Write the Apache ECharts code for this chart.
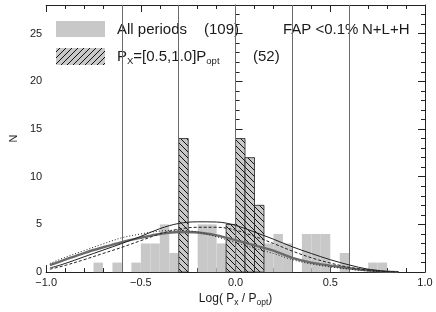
<!DOCTYPE html>
<html><head><meta charset="utf-8">
<script src="https://cdn.jsdelivr.net/npm/echarts@6/dist/echarts.min.js"></script>
<style>html,body{margin:0;padding:0;background:#fff}#c{width:436px;height:312px}</style>
</head><body><div id="c"></div>
<script>
// ---- data ----
const binWidth = 0.05;
const allBinLeft = [-0.75,-0.65,-0.55,-0.5,-0.45,-0.4,-0.35,-0.3,-0.2,-0.15,-0.1,-0.05,0,0.05,0.1,0.15,0.2,0.25,0.35,0.4,0.45,0.55,0.7,0.75];
const allCounts  = [1,1,1,3,3,5,2,14,5,5,3,5,14,12,7,3,4,3,4,4,4,2,1,1];
const halfBinLeft = [-0.3,-0.05,0,0.05,0.1];
const halfCounts  = [14,5,14,12,7];
const vLines = [-0.6,-0.3,0,0.3,0.6];
const curveX   = [-0.98,-0.9,-0.8,-0.7,-0.6,-0.5,-0.4,-0.3,-0.2,-0.1,0,0.1,0.2,0.3,0.4,0.5,0.6,0.7,0.8,0.86];
const thickCurve  = [0.72,1.3,2.0,2.6,3.15,3.6,4.0,4.2,4.15,3.85,3.35,2.8,2.25,1.5,1.0,0.68,0.4,0.2,0.05,0.0];
const thinCurve   = [0.42,0.9,1.6,2.3,3.0,3.75,4.55,5.1,5.27,5.25,4.9,4.2,3.45,2.65,1.95,1.3,0.75,0.3,0.06,0.0];
const dashedCurve = [0.3,0.7,1.3,1.95,2.6,3.3,4.0,4.5,4.7,4.7,4.4,3.75,3.0,2.2,1.5,0.95,0.5,0.2,0.04,0.0];
const dottedCurve = [0.9,1.55,2.25,2.95,3.6,4.0,4.3,4.4,4.2,3.7,3.1,2.5,1.95,1.3,0.85,0.55,0.3,0.12,0.02,0.0];
const xTickValues = [-1,-0.5,0,0.5,1];
const xTickLabels = ['\u22121.0','\u22120.5','0.0','0.5','1.0'];
const yTickValues = [0,5,10,15,20,25];
const yTickLabels = ['0','5','10','15','20','25'];

// ---- patterns ----
function hatch(dir){
  const s=6, c=document.createElement('canvas'); c.width=s; c.height=s;
  const g=c.getContext('2d'); g.fillStyle='#c8c8c8'; g.fillRect(0,0,s,s);
  g.strokeStyle='#111'; g.lineWidth=1;
  g.beginPath();
  if(dir>0){ g.moveTo(-1,-1);g.lineTo(s+1,s+1); g.moveTo(-1,s-1);g.lineTo(1,s+1); g.moveTo(s-1,-1);g.lineTo(s+1,1);}
  else { g.moveTo(-1,s+1);g.lineTo(s+1,-1); g.moveTo(-1,1);g.lineTo(1,-1); g.moveTo(s-1,s+1);g.lineTo(s+1,s-1);}
  g.stroke();
  return {image:c, repeat:'repeat'};
}
const hatchBack = hatch(1);   // "\" direction
const hatchFwd = hatch(-1);   // "/" direction

const FONT='Liberation Sans';
const TXT='#1a1a1a';
const chart = echarts.init(document.getElementById('c'), null, {renderer:'canvas'});

function barRender(fill, stroke){
  return function(params, api){
    const x0=api.value(0), h=api.value(1);
    const p0=api.coord([x0,h]), p1=api.coord([x0+binWidth,0]);
    return {type:'rect', shape:{x:p0[0],y:p0[1],width:p1[0]-p0[0],height:p1[1]-p0[1]},
      style:{fill:fill, stroke:stroke||null, lineWidth:stroke?0.8:0}};
  };
}
const axisCol='#222';
function xAx(pos, labels){
  return {type:'value', min:-1, max:1, interval:0.5, position:pos, gridIndex:0,
    axisLine:{show:true, onZero:false, lineStyle:{color:axisCol,width:1}},
    axisTick:{show:true, inside:true, length:7, lineStyle:{color:axisCol}},
    minorTick:{show:true, splitNumber:5, length:4, lineStyle:{color:axisCol}},
    splitLine:{show:false}, minorSplitLine:{show:false},
    axisLabel:{show:labels, margin:5, fontFamily:FONT, fontSize:11, color:TXT,
      formatter:v=>{const i=xTickValues.findIndex(t=>Math.abs(t-v)<1e-9); return i>=0?xTickLabels[i]:'';}},
    name: labels ? '{a|Log( P}{s|x}{a| / P}{s|opt}{a|)}' : '',
    nameLocation:'middle', nameGap:10,
    nameTextStyle:{rich:{a:{fontFamily:FONT,fontSize:12,lineHeight:16,color:TXT,verticalAlign:'middle'},
                         s:{fontFamily:FONT,fontSize:8.5,lineHeight:9,color:TXT,verticalAlign:'bottom'}}}
  };
}
function yAx(pos, interval, tickLen, labels, line){
  return {type:'value', min:0, max:28, interval:interval, position:pos, gridIndex:0,
    axisLine:{show:line, lineStyle:{color:axisCol,width:1}},
    axisTick:{show:true, inside:true, length:tickLen, lineStyle:{color:axisCol}},
    splitLine:{show:false},
    axisLabel:{show:labels, margin:4, fontFamily:FONT, fontSize:11, color:TXT,
      formatter:v=>{const i=yTickValues.indexOf(v); return i>=0?yTickLabels[i]:'';}},
    name: labels?'N':'', nameLocation:'middle', nameGap:27, nameRotate:90,
    nameTextStyle:{fontFamily:FONT,fontSize:11,color:TXT}
  };
}
const lineBase = {type:'line', xAxisIndex:0, yAxisIndex:0, showSymbol:false, symbol:'none', smooth:0.35, z:5, silent:true};
chart.setOption({
  animation:false,
  grid:{left:36, right:11, top:5, bottom:37},
  xAxis:[xAx('bottom',true), xAx('top',false)],
  yAxis:[yAx('left',5,7,true,true), yAx('left',1,4,false,false), yAx('right',5,7,false,true), yAx('right',1,4,false,false)],
  series:[
    {type:'custom', name:'All periods', xAxisIndex:0, yAxisIndex:0, z:1, silent:true,
      renderItem:barRender('#c8c8c8',null), data:allBinLeft.map((x,i)=>[x,allCounts[i]])},
    {type:'custom', name:'half', xAxisIndex:0, yAxisIndex:0, z:2, silent:true,
      renderItem:barRender(hatchBack,'#222'), data:halfBinLeft.map((x,i)=>[x,halfCounts[i]])},
    Object.assign({}, lineBase, {name:'thick', data:curveX.map((x,i)=>[x,thickCurve[i]]), lineStyle:{color:'#6a6a6a',width:2.4}}),
    Object.assign({}, lineBase, {name:'dotted', data:curveX.map((x,i)=>[x,dottedCurve[i]]), lineStyle:{color:'#222',width:1,type:[1,2]}}),
    Object.assign({}, lineBase, {name:'dashed', data:curveX.map((x,i)=>[x,dashedCurve[i]]), lineStyle:{color:'#222',width:1,type:[3,2]}}),
    Object.assign({}, lineBase, {name:'thin', data:curveX.map((x,i)=>[x,thinCurve[i]]), lineStyle:{color:'#222',width:1}}),
    {type:'line', name:'vlines', xAxisIndex:0, yAxisIndex:0, data:[], z:6, silent:true,
      markLine:{silent:true, symbol:['none','none'], label:{show:false}, animation:false,
        lineStyle:{color:'#6a6a6a', width:1, type:'solid'}, data:vLines.map(v=>({xAxis:v}))}}
  ],
  graphic:[
    {type:'rect', shape:{x:56,y:21,width:49,height:16}, style:{fill:'#c8c8c8'}},
    {type:'rect', shape:{x:56,y:48,width:49,height:17}, style:{fill:hatchFwd}},
    {type:'text', x:117, y:30, style:{text:'All periods', font:'15px "Liberation Sans"', fill:TXT, verticalAlign:'middle'}},
    {type:'text', x:204, y:30, style:{text:'(109)', font:'15px "Liberation Sans"', fill:TXT, verticalAlign:'middle'}},
    {type:'text', x:283, y:30, style:{text:'FAP <0.1%', font:'15px "Liberation Sans"', fill:TXT, verticalAlign:'middle'}},
    {type:'text', x:362, y:30, style:{text:'N+L+H', font:'15px "Liberation Sans"', fill:TXT, verticalAlign:'middle'}},
    {type:'text', x:117, y:57, style:{text:'{a|P}{s|X}{a|=[0.5,1.0]P}{s|opt}', verticalAlign:'middle',
      rich:{a:{fontFamily:FONT,fontSize:15,lineHeight:18,fill:TXT,color:TXT,verticalAlign:'middle'},
            s:{fontFamily:FONT,fontSize:9.5,lineHeight:10,fill:TXT,color:TXT,verticalAlign:'bottom'}}}},
    {type:'text', x:253, y:57, style:{text:'(52)', font:'15px "Liberation Sans"', fill:TXT, verticalAlign:'middle'}}
  ]
});
</script></body></html>
